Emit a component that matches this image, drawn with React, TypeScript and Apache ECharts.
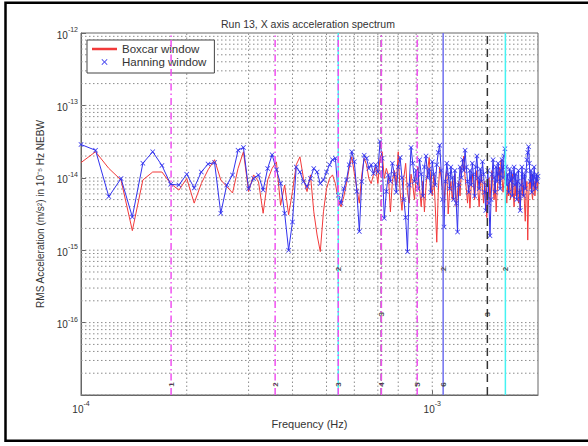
import React, { useEffect, useRef } from 'react';
import * as echarts from 'echarts';

// Frequency bins: bin index * bin width (10^-5 Hz NEBW)
const binWidthHz = 1e-5;
const firstBin = 10;

// log10 of RMS acceleration, boxcar window (bins 10..200)
const boxcarLog10 = [
  -13.79, -13.64, -13.87, -14.03, -14.73, -14.03, -13.92, -13.92, -14.08, -14.17,
  -14.01, -14.35, -14.08, -13.89, -13.75, -14.03, -14.12, -14.21, -13.87, -13.64,
  -14.19, -13.96, -14.05, -14.49, -14.03, -13.87, -13.78, -14.38, -14.10, -14.51,
  -14.19, -13.82, -13.71, -14.01, -14.19, -13.96, -14.47, -14.79, -15.02, -14.47,
  -14.15, -14.01, -13.96, -14.08, -14.31, -14.40, -14.26, -14.08, -13.87, -13.71,
  -13.94, -14.15, -14.35, -13.96, -13.73, -13.82, -14.01, -14.08, -13.96, -13.85,
  -14.08, -13.73, -13.64, -14.01, -13.87, -13.96,
  -14.47, -14.05, -13.90, -14.10, -13.64, -14.20, -14.45, -14.00, -13.80, -14.20,
  -14.35, -13.95, -14.10, -14.30, -14.00, -13.85, -14.15, -14.40, -14.05, -14.47,
  -14.10, -13.90, -13.72, -14.05, -14.25, -13.95, -14.40, -14.89, -14.20, -13.85,
  -14.00, -14.15, -14.35, -14.00, -13.90, -14.50, -14.20, -14.05, -14.30, -14.10,
  -13.95, -14.40, -14.20, -14.05, -14.25, -13.90, -13.80, -13.70, -14.00, -14.15,
  -14.35, -14.10, -14.42, -14.15, -13.95, -14.10, -14.30, -14.05, -13.90, -14.20,
  -14.40, -14.10, -13.95, -14.15, -14.35, -14.05, -14.25, -14.55, -14.20, -14.00,
  -14.30, -14.10, -13.90, -14.15, -14.30, -14.05, -14.47, -14.20, -14.00, -13.85,
  -14.10, -13.75, -14.00, -14.20, -14.05, -13.90, -14.15, -14.35, -14.10, -14.25,
  -14.05, -14.30, -14.15, -13.95, -14.20, -14.40, -14.10, -14.25, -14.05, -14.20,
  -14.35, -14.15, -14.45, -14.20, -14.00, -14.25, -14.10, -14.35, -14.60, -14.20,
  -14.05, -14.86, -14.30, -14.05, -14.15, -13.95, -14.20, -14.30, -14.10, -14.05,
  -14.25, -14.10, -14.00, -14.15, -14.05,
];

// log10 of RMS acceleration, Hanning window (bins 10..200)
const hanningLog10 = [
  -13.54, -13.62, -14.26, -14.01, -14.54, -13.80, -13.64, -13.83, -14.09, -14.10,
  -13.95, -14.14, -13.92, -13.81, -13.79, -14.49, -14.10, -13.96, -13.62, -13.58,
  -14.15, -14.01, -13.96, -14.17, -13.87, -13.68, -13.89, -14.08, -14.49, -15.00,
  -14.61, -13.85, -13.92, -14.05, -14.12, -14.01, -13.87, -13.92, -14.08, -14.03,
  -13.92, -13.82, -13.75, -13.73, -14.24, -14.35, -14.15, -14.03, -13.82, -13.64,
  -13.78, -14.19, -14.74, -14.05, -13.69, -13.73, -13.87, -13.82, -13.94, -13.82,
  -13.92, -13.50, -13.73, -14.56, -14.19, -13.96,
  -14.05, -13.80, -13.95, -14.20, -13.85, -13.72, -14.00, -14.30, -14.55, -15.02,
  -14.10, -13.58, -13.80, -14.05, -13.90, -14.15, -13.75, -13.95, -14.25, -13.85,
  -13.70, -14.00, -13.88, -14.20, -13.78, -13.95, -14.10, -13.82, -13.65, -13.55,
  -13.90, -14.30, -14.68, -14.05, -13.80, -13.95, -14.15, -13.85, -14.00, -14.30,
  -13.90, -14.35, -14.75, -14.10, -13.85, -14.00, -13.75, -13.90, -13.62, -13.85,
  -14.05, -14.20, -13.90, -14.10, -13.80, -13.95, -14.25, -13.85, -13.70, -14.00,
  -14.15, -13.88, -14.05, -13.78, -13.95, -14.20, -14.45, -14.10, -13.90, -14.35,
  -14.80, -14.30, -13.95, -13.75, -14.00, -14.20, -13.85, -14.05, -13.80, -13.95,
  -14.15, -13.90, -13.75, -14.00, -13.70, -13.60, -13.85, -14.10, -13.95, -14.20,
  -13.88, -14.05, -13.92, -14.25, -14.00, -13.85, -14.10, -13.95, -14.30, -14.05,
  -13.90, -14.20, -14.45, -14.10, -13.85, -14.00, -14.25, -13.95, -14.15, -13.90,
  -13.75, -13.65, -13.57, -13.80, -14.05, -13.90, -14.20, -13.95, -14.10, -13.85,
  -14.00, -14.15, -13.95, -14.05, -13.98,
];

// Axis extents
const xMin = 1e-4;
const xMax = 2e-3;
const yMin = 1e-17;
const yMax = 1e-12;

// Grid (log minor lines)
const xGridValues = [2e-4, 3e-4, 4e-4, 5e-4, 6e-4, 7e-4, 8e-4, 9e-4, 1e-3];
const yDecades = [-17, -16, -15, -14, -13];
const yMultipliers = [1, 2, 3, 4, 5, 6, 7, 8, 9];

// Marked frequency lines (Hz)
const magentaLines = [1.805e-4, 3.57e-4, 5.4e-4, 7.16e-4, 9.06e-4];
const cyanLines = [5.4e-4, 1.615e-3];
const blackDashDotLines = [7.16e-4];
const blackDashLines = [1.435e-3];
const blueLines = [1.074e-3];

// Small tags on the marked lines: [frequency, level, text]
const tagFreqs = [1.805e-4, 3.57e-4, 5.4e-4, 7.16e-4, 9.06e-4, 1.074e-3, 5.4e-4, 1.074e-3, 1.615e-3, 7.16e-4, 1.435e-3];
const tagLevels = [1.4e-17, 1.4e-17, 1.4e-17, 1.4e-17, 1.4e-17, 1.4e-17, 5.5e-16, 5.5e-16, 5.5e-16, 1.3e-16, 1.3e-16];
const tagTexts = ['1', '2', '3', '4', '5', '6', '2', '2', '2', '3', '3'];

const FONT = '"Liberation Sans", Arial, Helvetica, sans-serif';
const xIcon = 'path://M0,1L1,0L5,4L9,0L10,1L6,5L10,9L9,10L5,6L1,10L0,9L4,5Z';

function decadeLabel(value: number) {
  const e = Math.round(Math.log10(value));
  return `{b|10}{s|${e}}`;
}

// vertical segments across full y range, separated by gaps
function verticalSegments(vals: number[]) {
  const out: any[] = [];
  vals.forEach((v) => {
    out.push([v, yMin], [v, yMax], [v, '-']);
  });
  return out;
}
function horizontalSegments(vals: number[]) {
  const out: any[] = [];
  vals.forEach((v) => {
    out.push([xMin, v], [xMax, v], ['-', v]);
  });
  return out;
}

export default function App() {
  const ref = useRef<HTMLDivElement>(null);

  useEffect(() => {
    if (!ref.current) return;
    const chart = echarts.init(ref.current, undefined, { renderer: 'svg' });

    const freqs = boxcarLog10.map((_, i) => (firstBin + i) * binWidthHz);
    const boxcar = boxcarLog10.map((v, i) => [freqs[i], Math.pow(10, v)]);
    const hanning = hanningLog10.map((v, i) => [(firstBin + i) * binWidthHz, Math.pow(10, v)]);

    const yGridValues: number[] = [];
    yDecades.forEach((d) => yMultipliers.forEach((m) => yGridValues.push(m * Math.pow(10, d))));

    const gridStyle = { color: '#8c8c8c', type: [1.5, 2.5] as any, width: 1 };

    const segSeries = (name: string, data: any[], lineStyle: any, z: number) => ({
      name,
      type: 'line',
      data,
      symbol: 'none',
      silent: true,
      connectNulls: false,
      z,
      lineStyle,
      itemStyle: { color: lineStyle.color },
      tooltip: { show: false },
    });

    const labelRich = {
      b: { fontSize: 10, fontFamily: FONT, color: '#333', lineHeight: 14, verticalAlign: 'bottom' },
      s: { fontSize: 7, fontFamily: FONT, color: '#333', lineHeight: 9, verticalAlign: 'top' },
    };

    const dashDot = [7, 3, 1.5, 3];

    chart.setOption({
      animation: false,
      backgroundColor: '#fff',
      title: {
        text: 'Run 13, X axis acceleration spectrum',
        left: 216,
        top: 13,
        textStyle: { fontSize: 10.5, fontWeight: 'normal', fontFamily: FONT, color: '#333' },
      },
      legend: {
        orient: 'vertical',
        left: 87,
        top: 40,
        padding: [3, 8, 5, 5],
        itemGap: 1,
        itemWidth: 25,
        itemHeight: 6,
        borderColor: '#444',
        borderWidth: 1,
        backgroundColor: '#fff',
        textStyle: { fontSize: 11.5, fontFamily: FONT, color: '#333' },
        data: [
          { name: 'Boxcar window', icon: 'path://M0,0H30V3H0Z' },
          { name: 'Hanning window', icon: xIcon },
        ],
      },
      grid: {
        left: 81,
        right: 50,
        top: 33,
        bottom: 51,
        show: true,
        borderColor: '#666',
        borderWidth: 1,
        backgroundColor: 'transparent',
      },
      xAxis: {
        type: 'log',
        logBase: 10,
        min: xMin,
        max: xMax,
        name: 'Frequency (Hz)',
        nameLocation: 'middle',
        nameGap: 20,
        nameTextStyle: { fontSize: 11, fontFamily: FONT, color: '#333' },
        axisLine: { show: true, lineStyle: { color: '#666' } },
        axisTick: { show: true, inside: true, length: 5, lineStyle: { color: '#666' } },
        splitLine: { show: false },
        axisLabel: { formatter: decadeLabel, rich: labelRich, margin: 5, showMaxLabel: false },
      },
      yAxis: {
        type: 'log',
        logBase: 10,
        min: yMin,
        max: yMax,
        name: 'RMS Acceleration (m/s²) in 10⁻⁵ Hz NEBW',
        nameLocation: 'middle',
        nameGap: 33,
        nameTextStyle: { fontSize: 10, fontFamily: FONT, color: '#333' },
        axisLine: { show: true, lineStyle: { color: '#666' } },
        axisTick: { show: true, inside: true, length: 5, lineStyle: { color: '#666' } },
        splitLine: { show: false },
        axisLabel: { formatter: decadeLabel, rich: labelRich, margin: 3, showMinLabel: false },
      },
      graphic: [
        {
          type: 'rect',
          shape: { x: 5.5, y: 2.8, width: 700, height: 438 },
          style: { fill: 'none', stroke: '#000', lineWidth: 2.5 },
          silent: true,
          z: 100,
        },
      ],
      series: [
        segSeries('xgrid', verticalSegments(xGridValues), gridStyle, 1),
        segSeries('ygrid', horizontalSegments(yGridValues), gridStyle, 1),
        {
          name: 'Boxcar window',
          type: 'line',
          data: boxcar,
          symbol: 'none',
          z: 2,
          lineStyle: { color: '#f23a3a', width: 1 },
          itemStyle: { color: '#f23a3a' },
        },
        {
          name: 'Hanning window',
          type: 'line',
          data: hanning,
          symbol: xIcon,
          symbolSize: 5,
          z: 3,
          lineStyle: { color: '#3232ee', width: 1 },
          itemStyle: { color: '#3232ee' },
        },
        segSeries('cyanLines', verticalSegments(cyanLines), { color: '#44f2f2', width: 1.5, type: 'solid' }, 4),
        segSeries('blueLines', verticalSegments(blueLines), { color: '#7070f0', width: 1.5, type: 'solid' }, 4),
        segSeries('blackDashDot', verticalSegments(blackDashDotLines), { color: '#333', width: 1.5, type: dashDot }, 4),
        segSeries('blackDash', verticalSegments(blackDashLines), { color: '#333', width: 1.5, type: [8, 5] }, 4),
        segSeries('magentaLines', verticalSegments(magentaLines), { color: '#f050f0', width: 1.5, type: dashDot }, 5),
        {
          name: 'tags',
          type: 'scatter',
          silent: true,
          z: 6,
          symbolSize: 0,
          data: tagFreqs.map((f, i) => ({ value: [f, tagLevels[i]], name: tagTexts[i] })),
          label: {
            show: true,
            position: 'inside',
            formatter: (p: any) => p.name,
            fontSize: 8,
            fontWeight: 'bold',
            fontFamily: FONT,
            color: '#222',
            rotate: 90,
          },
        },
      ],
    });

    return () => chart.dispose();
  }, []);

  return (
    <div
      ref={ref}
      style={{ position: 'fixed', left: 0, top: 0, width: 588, height: 446, background: '#fff' }}
    />
  );
}
